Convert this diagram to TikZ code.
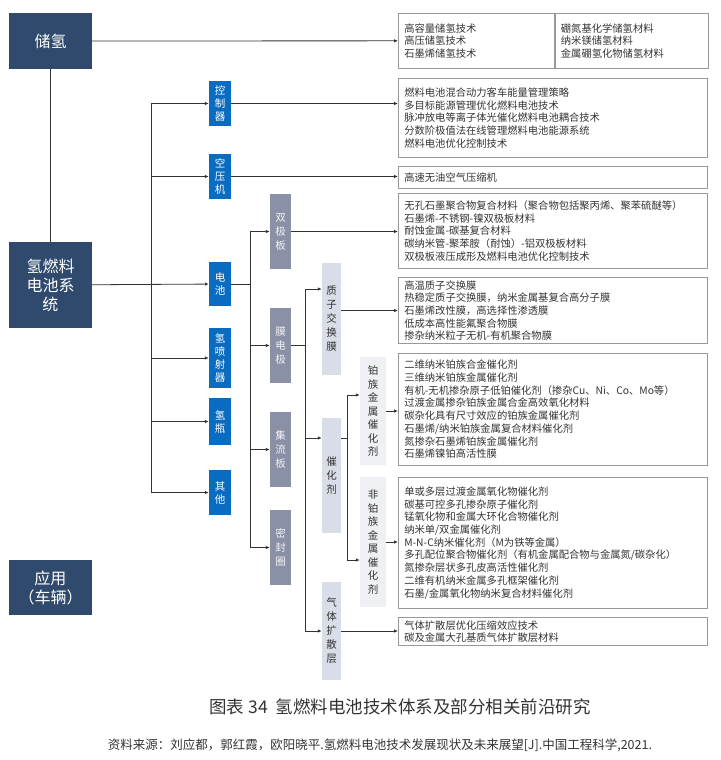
\documentclass[tikz,border=0pt]{standalone}
\usepackage{fontspec}
\setmainfont{Noto Sans CJK SC}
\usetikzlibrary{arrows.meta,positioning}
\definecolor{navy}{HTML}{2F4A6C}
\definecolor{sysblue}{HTML}{0A6CC0}
\definecolor{partgray}{HTML}{8A90A6}
\definecolor{layergray}{HTML}{D9DDE7}
\definecolor{catgray}{HTML}{EFF0F3}
\definecolor{txt}{HTML}{333333}

\begin{document}
\begin{tikzpicture}[x=1pt,y=-1pt,
  mainbox/.style={fill=navy,text=white,align=center,font=\fontsize{16}{19}\selectfont,minimum width=83,inner sep=0},
  sysbox/.style={fill=sysblue,text=white,align=center,font=\fontsize{10.5}{13}\selectfont,minimum width=22,inner sep=0},
  partbox/.style={fill=partgray,text=white!90!partgray,align=center,font=\fontsize{10.5}{14}\selectfont,minimum width=21,minimum height=75,inner sep=0},
  layerbox/.style={fill=layergray,text=txt,align=center,font=\fontsize{10.5}{14}\selectfont,minimum width=19,inner sep=0},
  catbox/.style={fill=catgray,text=txt,align=center,font=\fontsize{10.5}{13.5}\selectfont,minimum width=26,inner sep=0},
  listbox/.style={draw=gray!80,line width=0.6pt,text=txt,align=left,font=\fontsize{10.3}{12.7}\selectfont,
    anchor=north west,minimum width=309,text width=297,inner xsep=6,inner ysep=3},
  arr/.style={-{Latex[length=4pt,width=3.5pt]},line width=0.8pt,black!80},
  ln/.style={line width=0.8pt,black!80}]
  \useasboundingbox (0,0) rectangle (720,760);

  % left column
  \node[mainbox,minimum height=56] (store) at (50.5,41) {储氢};
  \node[mainbox,minimum height=86] (fcs) at (50.5,285) {氢燃料\\电池系\\统};
  \node[mainbox,minimum height=55] (app) at (50.5,587.5) {应用\\（车辆）};

  % subsystems
  \node[sysbox,minimum height=45] (ctrl) at (220,103.5) {控\\制\\器};
  \node[sysbox,minimum height=45] (air) at (220,176.5) {空\\压\\机};
  \node[sysbox,minimum height=44] (stack) at (220,284) {电\\池};
  \node[sysbox,minimum height=60] (inj) at (220,358) {氢\\喷\\射\\器};
  \node[sysbox,minimum height=47] (tank) at (220,421.5) {氢\\瓶};
  \node[sysbox,minimum height=45] (other) at (220,492.5) {其\\他};

  % stack parts
  \node[partbox] (bip) at (280.5,231.5) {双\\极\\板};
  \node[partbox] (mea) at (280.5,345.5) {膜\\电\\极};
  \node[partbox] (cur) at (280.5,449.5) {集\\流\\板};
  \node[partbox] (seal) at (280.5,547.5) {密\\封\\圈};

  % MEA layers
  \node[layerbox,minimum height=112] (pem) at (331.5,319) {质\\子\\交\\换\\膜};
  \node[layerbox,minimum height=115] (cat) at (331.5,475.5) {催\\化\\剂};
  \node[layerbox,minimum height=98] (gdl) at (331.5,631) {气\\体\\扩\\散\\层};

  % catalysts
  \node[catbox,minimum height=108] (ptcat) at (373,411) {铂\\族\\金\\属\\催\\化\\剂};
  \node[catbox,minimum height=130] (npcat) at (373,542) {非\\铂\\族\\金\\属\\催\\化\\剂};

  % lists
  \node[listbox,minimum width=156,text width=144,minimum height=55] (lstA) at (398,13) {高容量储氢技术\\高压储氢技术\\石墨烯储氢技术};
  \node[listbox,minimum width=153,text width=141,minimum height=55,anchor=north west] (lstB) at (lstA.north east) {硼氮基化学储氢材料\\纳米镁储氢材料\\金属硼氢化物储氢材料};
  \node[listbox,minimum height=79] (lstC) at (398,78) {燃料电池混合动力客车能量管理策略\\多目标能源管理优化燃料电池技术\\脉冲放电等离子体光催化燃料电池耦合技术\\分数阶极值法在线管理燃料电池能源系统\\燃料电池优化控制技术};
  \node[listbox,minimum height=22] (lstD) at (398,166) {高速无油空气压缩机};
  \node[listbox,minimum height=75] (lstE) at (398,193) {无孔石墨聚合物复合材料（聚合物包括聚丙烯、聚苯硫醚等）\\石墨烯-不锈钢-镍双极板材料\\耐蚀金属-碳基复合材料\\碳纳米管-聚苯胺（耐蚀）-铝双极板材料\\双极板液压成形及燃料电池优化控制技术};
  \node[listbox,minimum height=61] (lstF) at (398,277) {高温质子交换膜\\热稳定质子交换膜，纳米金属基复合高分子膜\\石墨烯改性膜，高选择性渗透膜\\低成本高性能氟聚合物膜\\掺杂纳米粒子无机-有机聚合物膜};
  \node[listbox,minimum height=112] (lstG) at (398,353) {二维纳米铂族合金催化剂\\三维纳米铂族金属催化剂\\有机-无机掺杂原子低铂催化剂（掺杂Cu、Ni、Co、Mo等）\\过渡金属掺杂铂族金属合金高效氧化材料\\碳杂化具有尺寸效应的铂族金属催化剂\\石墨烯/纳米铂族金属复合材料催化剂\\氮掺杂石墨烯铂族金属催化剂\\石墨烯镍铂高活性膜};
  \node[listbox,minimum height=131] (lstH) at (398,477) {单或多层过渡金属氧化物催化剂\\碳基可控多孔掺杂原子催化剂\\锰氧化物和金属大环化合物催化剂\\纳米单/双金属催化剂\\M-N-C纳米催化剂（M为铁等金属）\\多孔配位聚合物催化剂（有机金属配合物与金属氮/碳杂化）\\氮掺杂层状多孔皮高活性催化剂\\二维有机纳米金属多孔框架催化剂\\石墨/金属氧化物纳米复合材料催化剂};
  \node[listbox,minimum height=28] (lstI) at (398,617) {气体扩散层优化压缩效应技术\\碳及金属大孔基质气体扩散层材料};

  % trunks
  \coordinate (trkA) at (151,0);
  \coordinate (trkB) at (250,0);
  \coordinate (pemIn) at (305,289);
  \coordinate (catIn) at (305,438);
  \coordinate (gdlIn) at (305,631);
  \coordinate (ptIn) at (347,395);
  \coordinate (npIn) at (347,560);

  \draw[ln] (store) -- (fcs);
  \draw[arr] (store) -- (lstA);
  \draw[arr] (fcs) -- (stack);
  \draw[ln] (trkA |- ctrl.west) -- (trkA |- other.west);
  \foreach \s in {ctrl,air,inj,tank,other}
    \draw[arr] (trkA |- \s.west) -- (\s.west);
  \draw[arr] (ctrl.east) -- (ctrl.east -| lstC.west);
  \draw[arr] (air.east) -- (air.east -| lstD.west);

  \draw[ln] (stack.east) -- (trkB |- stack.east);
  \draw[ln] (trkB |- bip.west) -- (trkB |- seal.west);
  \foreach \p in {bip,mea,cur,seal}
    \draw[arr] (trkB |- \p.west) -- (\p.west);
  \draw[arr] (bip.east) -- (bip.east -| lstE.west);

  \draw[ln] (mea.east) -- (pemIn |- mea.east);
  \draw[ln] (pemIn) -- (gdlIn);
  \draw[arr] (pemIn) -- (pemIn -| pem.west);
  \draw[arr] (catIn) -- (catIn -| cat.west);
  \draw[arr] (gdlIn) -- (gdl.west);
  \draw[arr] (pem.east |- lstF.west) -- (lstF.west);
  \draw[arr] (gdl.east) -- (gdl.east -| lstI.west);

  \draw[ln] (cat.east |- catIn) -- (ptIn |- catIn);
  \draw[ln] (ptIn) -- (npIn);
  \draw[arr] (ptIn) -- (ptIn -| ptcat.west);
  \draw[arr] (npIn) -- (npIn -| npcat.west);
  \draw[arr] (ptcat.east) -- (ptcat.east -| lstG.west);
  \draw[arr] (npcat.east) -- (npcat.east -| lstH.west);

  % caption
  \node[text=txt,font=\fontsize{17.5}{20}\selectfont] (title) at (400,707) {图表 34\ \ 氢燃料电池技术体系及部分相关前沿研究};
  \node[text=txt,font=\fontsize{12.5}{14}\selectfont] (source) at (380,745) {资料来源：刘应都，郭红霞，欧阳晓平.氢燃料电池技术发展现状及未来展望[J].中国工程科学,2021.};
\end{tikzpicture}
\end{document}
